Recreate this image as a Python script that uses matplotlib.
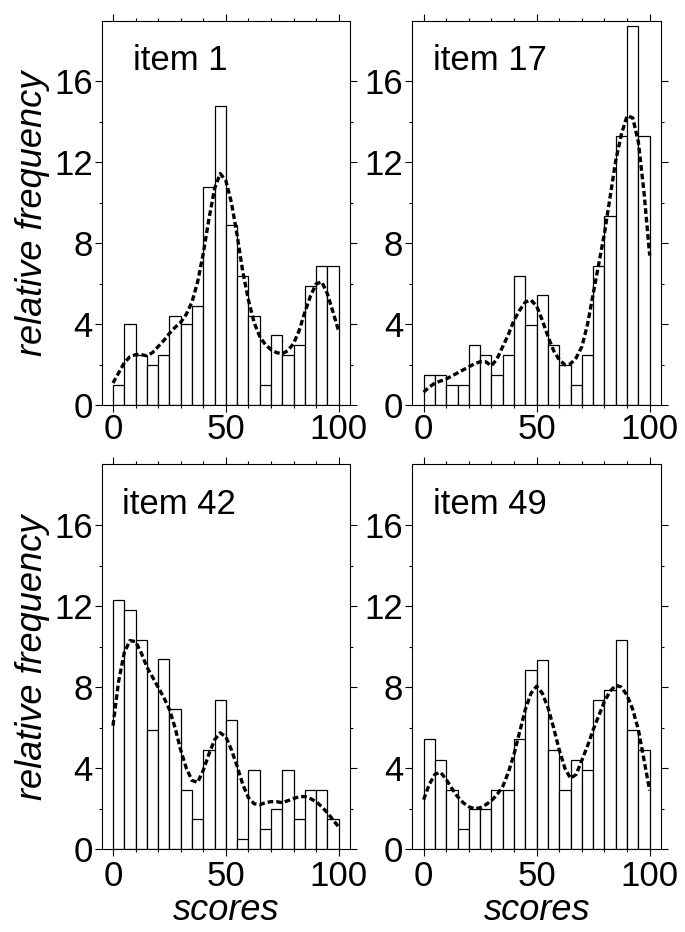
import matplotlib
matplotlib.use("Agg")
import matplotlib.pyplot as plt
import numpy as np
from matplotlib.ticker import FixedLocator

plt.rcParams['font.family'] = ['Liberation Sans', 'DejaVu Sans']

# histogram bins: 0-5, 5-10, ..., 95-100
bin_left = np.arange(0, 100, 5)

item1_bars = [1.0, 4.0, 2.5, 2.0, 2.5, 4.4, 4.0, 4.9, 10.8, 14.8,
              8.9, 6.4, 4.4, 1.0, 3.45, 2.5, 3.0, 5.9, 6.9, 6.9]
item17_bars = [1.48, 1.48, 0.99, 0.99, 2.96, 2.47, 1.48, 2.47, 6.41, 3.95,
               5.43, 2.96, 1.97, 0.99, 2.47, 6.89, 9.36, 13.3, 18.72, 13.3]
item42_bars = [12.3, 11.82, 10.35, 5.91, 9.37, 6.9, 2.95, 1.48, 4.92, 7.39,
               6.4, 0.49, 3.93, 0.99, 1.98, 3.93, 1.48, 2.95, 2.95, 1.48]
item49_bars = [5.42, 4.43, 2.95, 0.99, 1.98, 1.98, 2.95, 2.95, 5.42, 8.87,
               9.35, 4.92, 2.95, 4.43, 3.93, 7.39, 7.88, 10.34, 5.91, 4.92]

# dashed smooth curves, read every 2.5 score points
curve_x = np.linspace(0, 100, 41)
item1_curve = [1.1, 1.6, 2.1, 2.4, 2.5, 2.5, 2.45, 2.6, 2.9, 3.2, 3.55, 3.85, 4.1, 4.5,
               5.1, 6.1, 7.5, 9.2, 10.7, 11.45, 11.1, 10.0, 8.4, 6.6, 5.2, 4.1, 3.4,
               3.0, 2.75, 2.6, 2.55, 2.7, 3.05, 3.7, 4.6, 5.4, 6.0, 6.1, 5.5, 4.6, 3.65]
item17_curve = [0.65, 0.9, 1.1, 1.2, 1.3, 1.45, 1.6, 1.75, 1.9, 2.05, 2.15, 2.15, 1.95,
                2.3, 2.9, 3.5, 4.2, 4.7, 5.1, 5.2, 4.9, 4.2, 3.4, 2.7, 2.25, 2.0, 2.05,
                2.35, 2.9, 4.0, 5.5, 7.0, 8.5, 10.3, 12.1, 13.4, 14.3, 14.2, 13.0, 10.5, 7.4]
item42_curve = [6.1, 8.3, 9.7, 10.3, 10.25, 9.7, 9.0, 8.5, 8.0, 7.5, 6.9, 6.0, 4.9, 4.0,
                3.4, 3.3, 3.9, 4.7, 5.4, 5.75, 5.55, 4.9, 4.1, 3.2, 2.55, 2.25, 2.2, 2.3,
                2.35, 2.35, 2.3, 2.4, 2.5, 2.6, 2.6, 2.5, 2.35, 2.1, 1.8, 1.45, 1.1]
item49_curve = [2.45, 3.2, 3.7, 3.8, 3.45, 3.0, 2.6, 2.3, 2.1, 2.0, 2.05, 2.2, 2.4, 2.7,
                3.1, 3.8, 4.7, 5.8, 6.9, 7.7, 8.05, 7.7, 7.0, 6.0, 4.9, 4.0, 3.5, 3.7,
                4.4, 5.1, 5.9, 6.6, 7.3, 7.8, 8.1, 8.0, 7.6, 6.9, 5.9, 4.4, 2.9]

titles = ['item 1', 'item 17', 'item 42', 'item 49']
bars = [item1_bars, item17_bars, item42_bars, item49_bars]
curves = [item1_curve, item17_curve, item42_curve, item49_curve]

W, H = 685, 932
fig = plt.figure(figsize=(W / 100, H / 100), dpi=100)

# axes boxes in pixels: left, top, right, bottom
boxes = [(101.7, 20.7, 350, 405.3), (412.3, 20.7, 661, 405.3),
         (101.7, 464.3, 350, 849.3), (412.3, 464.3, 661, 849.3)]
title_x = [0.125, 0.082, 0.082, 0.082]

for i in range(4):
    l, t, r, b = boxes[i]
    ax = fig.add_axes([l / W, 1 - b / H, (r - l) / W, (b - t) / H])
    ax.bar(bin_left, bars[i], width=5, align='edge', facecolor='white',
           edgecolor='black', linewidth=0.9)
    ax.plot(curve_x, curves[i], color='black', lw=2.4, linestyle=(0, (1.7, 0.9)))
    ax.set_xlim(-5, 105)
    ax.set_ylim(0, 19)
    ax.set_xticks([0, 50, 100])
    ax.xaxis.set_minor_locator(FixedLocator(np.arange(0, 101, 10)))
    ax.set_yticks([0, 4, 8, 12, 16])
    ax.yaxis.set_minor_locator(FixedLocator([2, 6, 10, 14]))
    ax.tick_params(which='both', direction='out', top=True, right=True,
                   width=0.8, labelsize=25)
    ax.tick_params(which='major', length=5)
    ax.tick_params(which='minor', length=2.5)
    ax.tick_params(axis='x', pad=0.5 if i < 2 else 2.5)
    ax.tick_params(axis='y', pad=1.5)
    for s in ax.spines.values():
        s.set_linewidth(0.8)
    ax.text(title_x[i], 0.872, titles[i], transform=ax.transAxes,
            fontsize=25, va='baseline', ha='left')

fig.text(33 / W, 1 - 213 / H, 'relative frequency', rotation=90, style='italic',
         fontsize=26, ha='center', va='center')
fig.text(33 / W, 1 - 657 / H, 'relative frequency', rotation=90, style='italic',
         fontsize=26, ha='center', va='center')
fig.text(226 / W, 1 - 920 / H, 'scores', style='italic', fontsize=26,
         ha='center', va='baseline')
fig.text(537 / W, 1 - 920 / H, 'scores', style='italic', fontsize=26,
         ha='center', va='baseline')

fig.savefig('out.png', dpi=100)
